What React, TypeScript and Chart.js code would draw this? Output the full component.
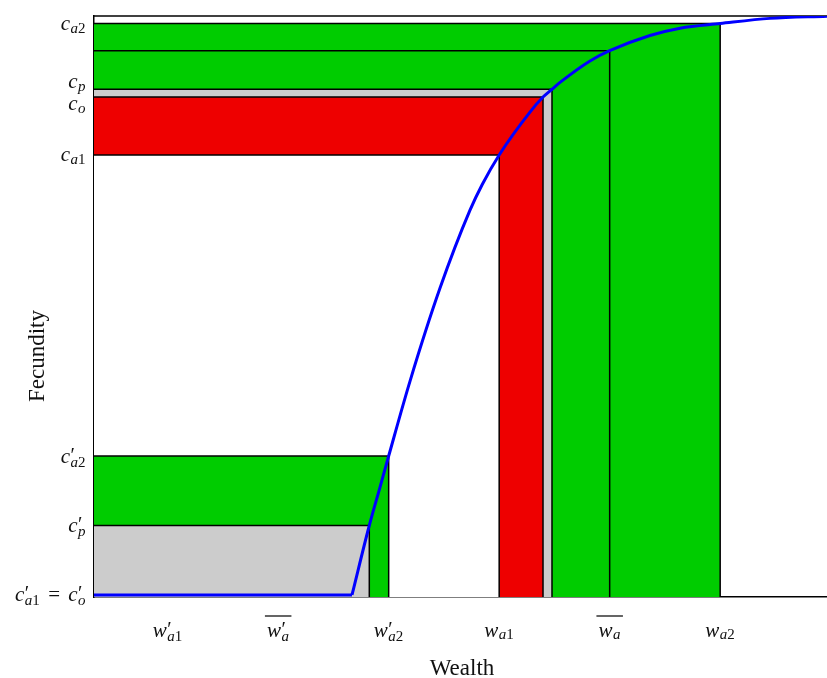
import React, { useEffect, useRef } from 'react';
import { Chart, registerables } from 'chart.js';

Chart.register(...registerables);

// ---- data ----
const flatWealth = [0, 3.502];
const flatFecundity = [0, 0];

const curveWealth = [3.502, 3.737, 3.882, 4.0, 4.289, 4.697, 5.104, 5.27, 5.5, 5.918, 6.095, 6.217, 6.326, 6.733, 7.0, 7.547, 7.955, 8.5, 9.176, 9.95];
const curveFecundity = [0, 0.12, 0.186, 0.24, 0.369, 0.53, 0.6646, 0.709, 0.76, 0.834, 0.86, 0.8735, 0.8853, 0.9224, 0.94, 0.9663, 0.979, 0.987, 0.9959, 0.9997];

// regions anchored at the origin, drawn back to front
const regionWealth = [8.5, 7.0, 6.217, 6.095, 5.5, 4.0, 3.737];
const regionFecundity = [0.987, 0.94, 0.8735, 0.86, 0.76, 0.24, 0.12];
const regionColors = ['#00cc00', '#00cc00', '#cccccc', '#ee0000', '#ffffff', '#00cc00', '#cccccc'];

const xTickValues = [1, 2.5, 4, 5.5, 7, 8.5];
const xTickLabels = ["w'_{a1}", "\\overline{w'_{a}}", "w'_{a2}", "w_{a1}", "\\overline{w_{a}}", "w_{a2}"];
const yTickValues = [0.987, 0.8735, 0.86, 0.76, 0.24, 0.12, 0];
const yTickLabels = ["c_{a2}", "c_{p}", "c_{o}", "c_{a1}", "c'_{a2}", "c'_{p}", "c'_{a1} = c'_{o}"];
const yLabelNudge = [0, -7.5, 6.5, 0, 0, 0, 0];

const xTitle = 'Wealth';
const yTitle = 'Fecundity';

const X_MIN = 0, X_MAX = 9.95, Y_MIN = -0.0035, Y_MAX = 1;

// ---- tiny TeX-like label renderer ----
type Atom =
  | { kind: 'sym'; base: string; prime: boolean; sub: string }
  | { kind: 'op'; text: string }
  | { kind: 'bar'; inner: Atom[] };

function parseTex(s: string): Atom[] {
  const out: Atom[] = [];
  let i = 0;
  while (i < s.length) {
    if (s.startsWith('\\overline{', i)) {
      let j = i + 10, depth = 1;
      while (j < s.length && depth > 0) {
        if (s[j] === '{') depth++;
        else if (s[j] === '}') depth--;
        j++;
      }
      out.push({ kind: 'bar', inner: parseTex(s.slice(i + 10, j - 1)) });
      i = j;
      continue;
    }
    const ch = s[i];
    if (ch === ' ') { i++; continue; }
    if (ch === '=') { out.push({ kind: 'op', text: '=' }); i++; continue; }
    let prime = false, sub = '';
    i++;
    while (s[i] === "'") { prime = true; i++; }
    if (s[i] === '_') {
      i++;
      if (s[i] === '{') { const j = s.indexOf('}', i); sub = s.slice(i + 1, j); i = j + 1; }
      else { sub = s[i]; i++; }
    }
    out.push({ kind: 'sym', base: ch, prime, sub });
  }
  return out;
}

const FAM = '"Liberation Serif", "DejaVu Serif", serif';
const MAIN_FONT = `italic 21px ${FAM}`;
const SUB_ITALIC = `italic 15px ${FAM}`;
const SUB_ROMAN = `15px ${FAM}`;
const OP_FONT = `21px ${FAM}`;
const PRIME_FONT = `20px ${FAM}`;
const THICK = 8;

function subWidth(ctx: CanvasRenderingContext2D, sub: string): number {
  let w = 0;
  for (const c of sub) {
    ctx.font = /[0-9]/.test(c) ? SUB_ROMAN : SUB_ITALIC;
    w += ctx.measureText(c).width;
  }
  return w;
}

function measureAtoms(ctx: CanvasRenderingContext2D, atoms: Atom[]): number {
  let w = 0;
  for (const a of atoms) {
    if (a.kind === 'bar') w += measureAtoms(ctx, a.inner) + 4;
    else if (a.kind === 'op') { ctx.font = OP_FONT; w += ctx.measureText(a.text).width + 2 * THICK; }
    else {
      ctx.font = MAIN_FONT;
      const bw = ctx.measureText(a.base).width;
      ctx.font = PRIME_FONT;
      const pw = a.prime ? ctx.measureText('\u2032').width : 0;
      w += bw + 1 + Math.max(pw, subWidth(ctx, a.sub));
    }
  }
  return w;
}

function drawAtoms(ctx: CanvasRenderingContext2D, atoms: Atom[], x: number, bl: number): number {
  for (const a of atoms) {
    if (a.kind === 'bar') {
      const w = measureAtoms(ctx, a.inner);
      drawAtoms(ctx, a.inner, x + 2, bl);
      ctx.save();
      ctx.strokeStyle = '#111';
      ctx.lineWidth = 1.3;
      ctx.beginPath();
      ctx.moveTo(x, bl - 20.5);
      ctx.lineTo(x + w + 4, bl - 20.5);
      ctx.stroke();
      ctx.restore();
      x += w + 4;
    } else if (a.kind === 'op') {
      ctx.font = OP_FONT;
      ctx.fillText(a.text, x + THICK, bl);
      x += ctx.measureText(a.text).width + 2 * THICK;
    } else {
      ctx.font = MAIN_FONT;
      const bw = ctx.measureText(a.base).width;
      ctx.fillText(a.base, x, bl);
      let pw = 0;
      if (a.prime) {
        ctx.font = PRIME_FONT;
        pw = ctx.measureText('\u2032').width;
        ctx.fillText('\u2032', x + bw + 0.5, bl - 1);
      }
      let sx = x + bw + 0.5;
      const sbl = bl + (a.prime ? 4 : 2.5);
      for (const c of a.sub) {
        ctx.font = /[0-9]/.test(c) ? SUB_ROMAN : SUB_ITALIC;
        ctx.fillText(c, sx, sbl);
        sx += ctx.measureText(c).width;
      }
      x += bw + 1 + Math.max(pw, subWidth(ctx, a.sub));
    }
  }
  return x;
}

const framePlugin = {
  id: 'frameAndMathLabels',
  beforeDatasetsDraw(chart: any) {
    const { ctx, chartArea } = chart;
    ctx.save();
    ctx.strokeStyle = '#000';
    ctx.lineWidth = 1.5;
    ctx.beginPath();
    ctx.moveTo(chartArea.left, chartArea.top);
    ctx.lineTo(chartArea.right, chartArea.top);
    ctx.stroke();
    ctx.restore();
  },
  afterDraw(chart: any) {
    const { ctx, scales } = chart;
    const xs = scales.x, ys = scales.y;
    ctx.save();
    ctx.fillStyle = '#111';
    ctx.textAlign = 'left';
    ctx.textBaseline = 'alphabetic';
    // x tick labels
    xTickValues.forEach((v, i) => {
      const atoms = parseTex(xTickLabels[i]);
      const w = measureAtoms(ctx, atoms);
      const px = xs.getPixelForValue(v);
      drawAtoms(ctx, atoms, px - w / 2, xs.top + 39.5);
    });
    // y tick labels
    yTickValues.forEach((v, i) => {
      const atoms = parseTex(yTickLabels[i]);
      const w = measureAtoms(ctx, atoms);
      const py = ys.getPixelForValue(v);
      drawAtoms(ctx, atoms, 86 - w, py + 6.5 + yLabelNudge[i]);
    });
    // axis titles
    ctx.font = `23px ${FAM}`;
    ctx.textAlign = 'center';
    ctx.fillText(xTitle, (xs.left + xs.right) / 2 + 1.5, 675);
    ctx.save();
    ctx.translate(44, 356);
    ctx.rotate(-Math.PI / 2);
    ctx.fillText(yTitle, 0, 0);
    ctx.restore();
    ctx.restore();
  },
};

export default function App() {
  const ref = useRef<HTMLCanvasElement>(null);
  useEffect(() => {
    if (!ref.current) return;
    const regionSets = regionWealth.map((w, k) => ({
      data: [
        { x: X_MIN, y: regionFecundity[k] },
        { x: w, y: regionFecundity[k] },
        { x: w, y: Y_MIN },
      ],
      borderColor: '#000',
      borderWidth: 1.5,
      backgroundColor: regionColors[k],
      fill: 'start',
      tension: 0,
      pointRadius: 0,
      order: regionWealth.length - k + 1,
    }));
    const chart = new Chart(ref.current, {
      type: 'line',
      data: {
        datasets: [
          {
            data: curveWealth.map((x, i) => ({ x, y: curveFecundity[i] })),
            borderColor: '#0000ff',
            borderWidth: 3,
            pointRadius: 0,
            fill: false,
            cubicInterpolationMode: 'monotone',
            order: 0,
          },
          {
            data: flatWealth.map((x, i) => ({ x, y: flatFecundity[i] })),
            borderColor: '#0000ff',
            borderWidth: 3,
            pointRadius: 0,
            fill: false,
            tension: 0,
            order: 0,
          },
          ...regionSets,
        ] as any,
      },
      options: {
        animation: false,
        responsive: false,
        events: [],
        layout: { padding: { top: 16, right: 0, bottom: 0, left: 0 } },
        plugins: { legend: { display: false }, tooltip: { enabled: false } },
        scales: {
          x: {
            type: 'linear',
            min: X_MIN,
            max: X_MAX,
            grid: { display: false },
            border: { display: true, color: '#000', width: 1.5 },
            ticks: { display: false },
            afterBuildTicks: (s: any) => { s.ticks = xTickValues.map((value) => ({ value })); },
            afterFit: (s: any) => { s.height = 81; },
          },
          y: {
            type: 'linear',
            min: Y_MIN,
            max: Y_MAX,
            grid: { display: false },
            border: { display: true, color: '#000', width: 1.5 },
            ticks: { display: false },
            afterBuildTicks: (s: any) => { s.ticks = yTickValues.map((value) => ({ value })); },
            afterFit: (s: any) => { s.width = 94; },
          },
        },
      } as any,
      plugins: [framePlugin as any],
    });
    return () => chart.destroy();
  }, []);
  return (
    <div style={{ position: 'absolute', left: 0, top: 0, width: 827, height: 678, background: '#fff' }}>
      <canvas ref={ref} width={827} height={678} style={{ width: 827, height: 678, display: 'block' }} />
    </div>
  );
}
